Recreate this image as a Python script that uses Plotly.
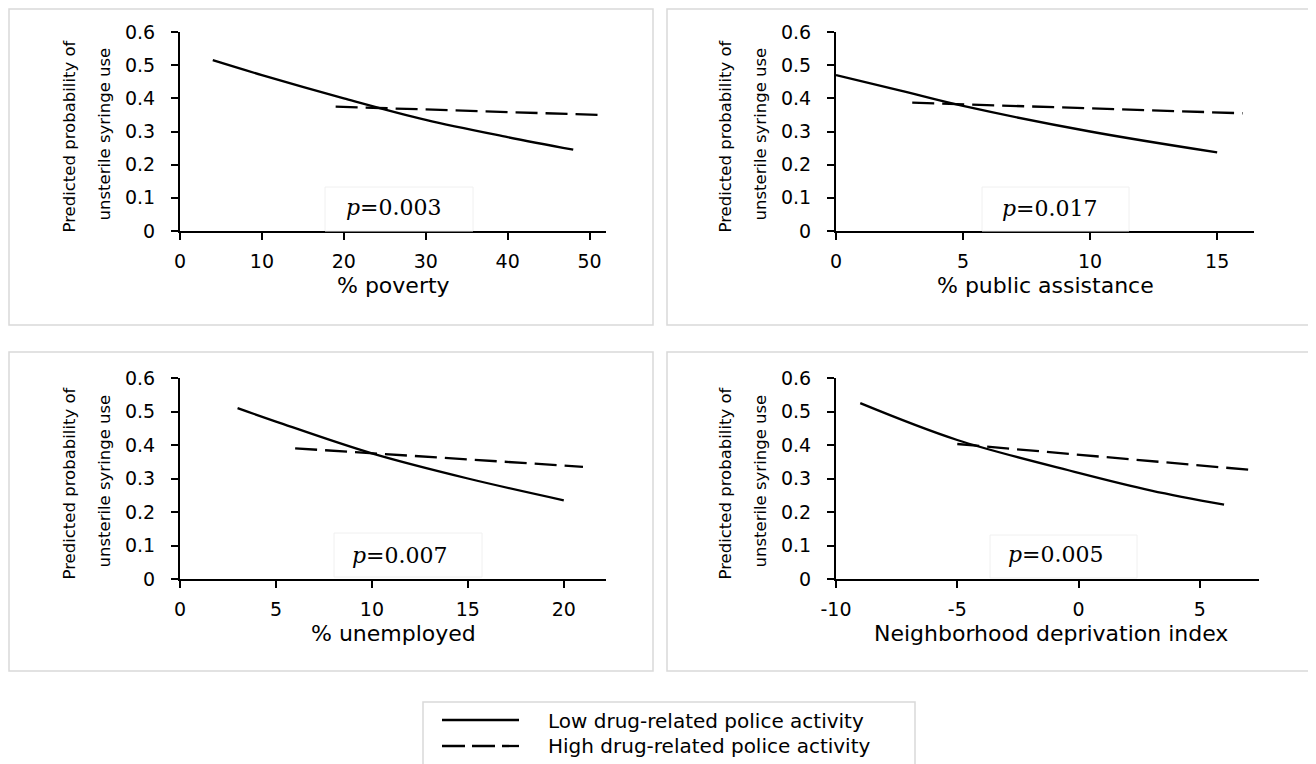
import plotly.graph_objects as go

# ---------------- data ----------------
poverty_low_x = [4, 10, 20, 30, 40, 48]
poverty_low_y = [0.515, 0.470, 0.400, 0.335, 0.283, 0.245]
poverty_high_x = [19, 51]
poverty_high_y = [0.375, 0.350]

assist_low_x = [0, 2.5, 5, 10, 15]
assist_low_y = [0.470, 0.424, 0.377, 0.300, 0.237]
assist_high_x = [3, 16]
assist_high_y = [0.387, 0.355]

unemp_low_x = [3, 5, 10, 15, 20]
unemp_low_y = [0.510, 0.470, 0.375, 0.300, 0.235]
unemp_high_x = [6, 21]
unemp_high_y = [0.390, 0.335]

ndi_low_x = [-9, -5, 0, 3, 6]
ndi_low_y = [0.525, 0.415, 0.317, 0.264, 0.222]
ndi_high_x = [-5, 7.2]
ndi_high_y = [0.403, 0.325]

x_titles = ["% poverty", "% public assistance", "% unemployed", "Neighborhood deprivation index"]
p_values = ["0.003", "0.017", "0.007", "0.005"]
x_tickvals = [[0, 10, 20, 30, 40, 50], [0, 5, 10, 15], [0, 5, 10, 15, 20], [-10, -5, 0, 5]]
x_ranges = [[0, 52], [0, 16.45], [0, 22.2], [-10, 7.44]]
y_tickvals = [0, 0.1, 0.2, 0.3, 0.4, 0.5, 0.6]
y_ticktext = ["0", "0.1", "0.2", "0.3", "0.4", "0.5", "0.6"]
y_title_lines = ["Predicted probability of", "unsterile syringe use"]
legend_labels = ["Low drug-related police activity", "High drug-related police activity"]

series = [
    (poverty_low_x, poverty_low_y, poverty_high_x, poverty_high_y),
    (assist_low_x, assist_low_y, assist_high_x, assist_high_y),
    (unemp_low_x, unemp_low_y, unemp_high_x, unemp_high_y),
    (ndi_low_x, ndi_low_y, ndi_high_x, ndi_high_y),
]

# ---------------- layout geometry (window pixels; page body has an 8px margin) ----------------
OFF = 8
W, H = 1308, 756
def fx(px):
    return (px - OFF) / W
def fy(py):
    return 1 - (py - OFF) / H

plot_boxes = [  # x0, x1, ytop, ybottom of axes area
    (180, 606, 32, 231),
    (836, 1254, 32, 231),
    (180, 606, 378, 579),
    (836, 1259, 378, 579),
]
frames = [(9, 9, 653, 325), (667, 9, 1310, 325), (9, 352, 653, 671), (667, 352, 1310, 671)]
pboxes = [(325, 187, 473, 231), (982, 187, 1129, 231), (334, 533, 482, 577), (990, 535, 1137, 578)]
ptext = [(394, 207), (1050, 208), (400, 555), (1056, 554)]

TICK_FONT = dict(family="DejaVu Sans", size=19, color="black")
TITLE_FONT = dict(family="DejaVu Sans", size=22, color="black")
YT_FONT = dict(family="DejaVu Sans", size=16.5, color="black")
LEG_FONT = dict(family="DejaVu Sans", size=20, color="black")

fig = go.Figure()
shapes = []
annotations = []
layout = {}

for i in range(4):
    lx, ly, hx, hy = series[i]
    xa = "x" if i == 0 else f"x{i+1}"
    ya = "y" if i == 0 else f"y{i+1}"
    fig.add_trace(go.Scatter(x=lx, y=ly, mode="lines", xaxis=xa, yaxis=ya,
                             line=dict(color="black", width=2.3, shape="spline", smoothing=1.0),
                             showlegend=False, name=legend_labels[0]))
    fig.add_trace(go.Scatter(x=hx, y=hy, mode="lines", xaxis=xa, yaxis=ya,
                             line=dict(color="black", width=2.3, dash="22px,8px"),
                             showlegend=False, name=legend_labels[1]))
    x0, x1, yt, yb = plot_boxes[i]
    kx = "xaxis" if i == 0 else f"xaxis{i+1}"
    ky = "yaxis" if i == 0 else f"yaxis{i+1}"
    layout[kx] = dict(domain=[fx(x0), fx(x1)], anchor=ya, range=x_ranges[i],
                      tickmode="array", tickvals=x_tickvals[i], ticktext=[str(v) for v in x_tickvals[i]],
                      showline=True, linecolor="black", linewidth=2, ticks="outside",
                      ticklen=7, tickwidth=2, tickcolor="black", showgrid=False, zeroline=False,
                      tickfont=TICK_FONT, ticklabelstandoff=5, fixedrange=True, automargin=False)
    layout[ky] = dict(domain=[fy(yb), fy(yt)], anchor=xa, range=[0, 0.6],
                      tickmode="array", tickvals=y_tickvals, ticktext=y_ticktext,
                      showline=True, linecolor="black", linewidth=2, ticks="outside",
                      ticklen=7, tickwidth=2, tickcolor="black", showgrid=False, zeroline=False,
                      tickfont=TICK_FONT, ticklabelstandoff=12, fixedrange=True, automargin=False)
    # panel frame
    fx0, fy0, fx1, fy1 = frames[i]
    shapes.append(dict(type="rect", xref="paper", yref="paper", x0=fx(fx0), x1=fx(fx1),
                       y0=fy(fy1), y1=fy(fy0), line=dict(color="#d9d9d9", width=1.5), layer="below"))
    # x axis title
    annotations.append(dict(xref="paper", yref="paper", x=fx((x0 + x1) / 2 + (3 if i == 3 else 0)),
                            y=fy(yb + 54), text=x_titles[i], showarrow=False,
                            xanchor="center", yanchor="middle", font=TITLE_FONT))
    # y axis title (two lines)
    ymid = (yt + yb) / 2
    annotations.append(dict(xref="paper", yref="paper", x=fx(x0 - 111), y=fy(ymid + 5),
                            text=y_title_lines[0], textangle=-90, showarrow=False,
                            xanchor="center", yanchor="middle", font=YT_FONT))
    annotations.append(dict(xref="paper", yref="paper", x=fx(x0 - 76), y=fy(ymid + 3),
                            text=y_title_lines[1], textangle=-90, showarrow=False,
                            xanchor="center", yanchor="middle", font=YT_FONT))
    # p-value box
    bx0, by0, bx1, by1 = pboxes[i]
    shapes.append(dict(type="rect", xref="paper", yref="paper", x0=fx(bx0), x1=fx(bx1),
                       y0=fy(by1), y1=fy(by0), line=dict(color="#f0f0f0", width=1),
                       fillcolor="white", layer="above"))
    tx, ty = ptext[i]
    annotations.append(dict(xref="paper", yref="paper", x=fx(tx), y=fy(ty),
                            text=f"<i>p</i>={p_values[i]}", showarrow=False,
                            xanchor="center", yanchor="middle",
                            font=dict(family="DejaVu Serif", size=22, color="black")))

# legend (drawn manually)
shapes.append(dict(type="rect", xref="paper", yref="paper", x0=fx(423), x1=fx(915),
                   y0=fy(775), y1=fy(702), line=dict(color="#d9d9d9", width=1.5), layer="below"))
shapes.append(dict(type="line", xref="paper", yref="paper", x0=fx(442), x1=fx(519),
                   y0=fy(720), y1=fy(720), line=dict(color="black", width=2.3)))
shapes.append(dict(type="line", xref="paper", yref="paper", x0=fx(442), x1=fx(519),
                   y0=fy(746), y1=fy(746), line=dict(color="black", width=2.3, dash="23px,7px")))
annotations.append(dict(xref="paper", yref="paper", x=fx(546), y=fy(721), text=legend_labels[0],
                        showarrow=False, xanchor="left", yanchor="middle", font=LEG_FONT))
annotations.append(dict(xref="paper", yref="paper", x=fx(546), y=fy(746), text=legend_labels[1],
                        showarrow=False, xanchor="left", yanchor="middle", font=LEG_FONT))

fig.update_layout(width=W, height=H, margin=dict(l=0, r=0, t=0, b=0, autoexpand=False),
                  paper_bgcolor="white", plot_bgcolor="white", showlegend=False,
                  shapes=shapes, annotations=annotations, **layout)

fig.write_html("out.html")
